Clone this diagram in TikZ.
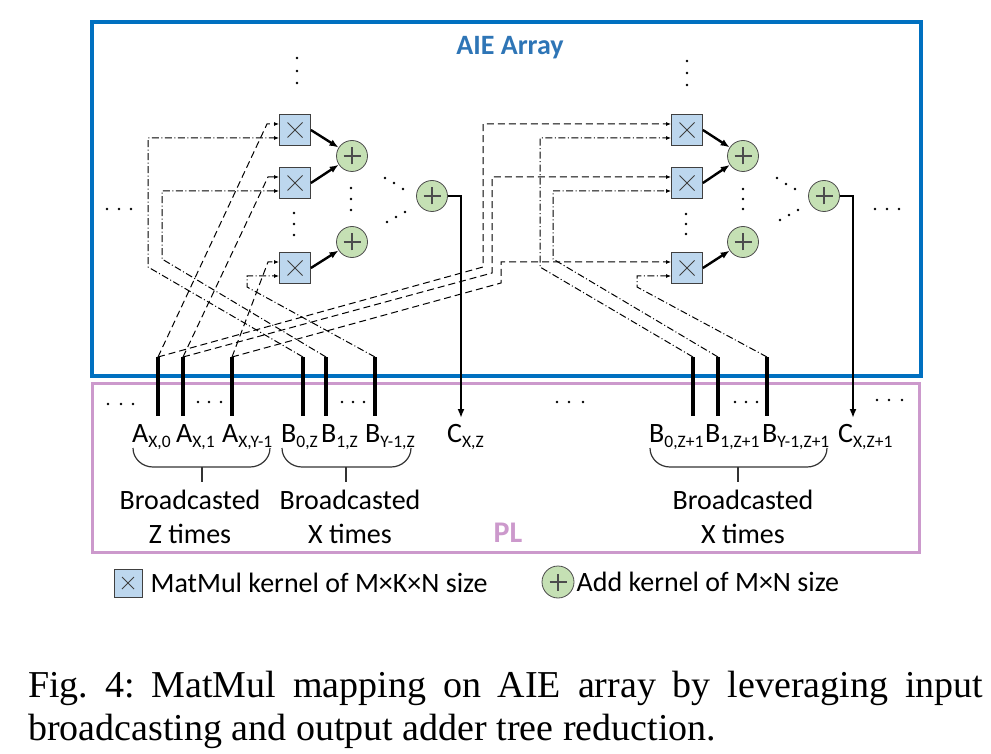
\documentclass[tikz,border=0pt]{standalone}
\usepackage{fontspec}
\setmainfont{Carlito}
\newfontfamily\capfont{Liberation Serif}
\usetikzlibrary{arrows.meta,positioning}
\definecolor{aie_blue}{RGB}{0,112,192}
\definecolor{aie_text}{RGB}{46,117,182}
\definecolor{pl_pink}{RGB}{204,153,204}
\definecolor{mul_fill}{RGB}{189,215,238}
\definecolor{add_fill}{RGB}{197,224,180}
\newcommand\sublbl[2]{#1\raisebox{-5pt}{\fontsize{17.5}{17.5}\selectfont #2}}

\tikzset{
  mulbox/.style={draw=black!75, fill=mul_fill, minimum size=31pt, inner sep=0pt, line width=0.8pt,
    path picture={
      \draw[line width=0.8pt] ([shift={(8pt,-8pt)}]path picture bounding box.north west) -- ([shift={(-8pt,8pt)}]path picture bounding box.south east);
      \draw[line width=0.8pt] ([shift={(8pt,8pt)}]path picture bounding box.south west) -- ([shift={(-8pt,-8pt)}]path picture bounding box.north east);}},
  addnode/.style={circle, draw=black!70, fill=add_fill, minimum size=31pt, inner sep=0pt, line width=0.8pt,
    path picture={
      \draw[line width=2.6pt] ([xshift=-8.5pt]path picture bounding box.center) -- ([xshift=8.5pt]path picture bounding box.center);
      \draw[line width=2.6pt] ([yshift=-8.5pt]path picture bounding box.center) -- ([yshift=8.5pt]path picture bounding box.center);}},
  ainput/.style={dash pattern=on 7pt off 4pt, line width=1pt, -{Latex[length=5pt,width=4pt]}},
  binput/.style={dash pattern=on 7pt off 2.5pt on 1pt off 2.5pt, line width=1pt, -{Latex[length=5pt,width=4pt]}},
  stub/.style={line width=3.2pt},
  sumarrow/.style={line width=2.4pt, -{Latex[length=9pt,width=7pt]}},
  outline/.style={line width=2.8pt, -{Latex[length=9pt,width=7pt]}},
  tinydot/.style={circle, fill, inner sep=0pt, minimum size=2.6pt},
  lbl/.style={anchor=base west, inner sep=0pt, font=\fontsize{28}{33}\selectfont},
  bcast/.style={align=center, inner sep=0pt, font=\fontsize{28}{34}\selectfont},
  brace/.style={line width=1.2pt, draw=black!80},
}

\begin{document}
\begin{tikzpicture}[x=1pt, y=-1pt]
  \useasboundingbox (0,0) rectangle (991,754);
  % frames
  \draw[aie_blue, line width=4pt] (92,22) rectangle (921,376);
  \draw[pl_pink, line width=3pt] (92,383) rectangle (919,552);
  \node[font=\bfseries\fontsize{28}{28}\selectfont, text=aie_text] (aie) at (510,48) {AIE Array};
  \node[font=\bfseries\fontsize{30}{30}\selectfont, text=pl_pink] (pl) at (508,533) {PL};

  % left column
  \node[mulbox] (m11) at (295,130) {};
  \node[mulbox] (m12) at (295,183) {};
  \node[mulbox] (m13) at (295,268) {};
  \node[addnode] (a11) at (352,156) {};
  \node[addnode] (a12) at (352,242) {};
  \node[addnode] (s1) at (432,196) {};
  % right column
  \node[mulbox] (m21) at (687,130) {};
  \node[mulbox] (m22) at (687,183) {};
  \node[mulbox] (m23) at (687,268) {};
  \node[addnode] (a21) at (743,156) {};
  \node[addnode] (a22) at (743,242) {};
  \node[addnode] (s2) at (824,196) {};

  \foreach \m in {1,2} {
    \draw[sumarrow] (m\m1.east) -- (a\m1);
    \draw[sumarrow] (m\m2.east) -- (a\m1);
    \draw[sumarrow] (m\m3.east) -- (a\m2);
    \foreach \k in {1,2,3} {
      \coordinate (m\m\k u) at ([yshift=6pt]m\m\k.west);
      \coordinate (m\m\k d) at ([yshift=-8pt]m\m\k.west);
    }
  }

  % PL ports
  \foreach \n/\x in {ax0/158, ax1/183, axy/232, b0z/303, b1z/326, byz/375, b0w/693, b1w/718, byw/767} {
    \coordinate (\n t) at (\x,357);
    \coordinate (\n b) at (\x,416);
    \draw[stub] (\n t) -- (\n b);
  }
  \coordinate (cxz) at (461,418);
  \coordinate (cxw) at (853,418);
  \draw[outline] (s1) -| (cxz);
  \draw[outline] (s2) -| (cxw);

  % A inputs, left column
  \draw[ainput] (ax0t) -- (267,124) -- (m11u);
  \draw[ainput] (ax1t) -- (268,177) -- (m12u);
  \draw[ainput] (axyt) -- (268,262) -- (m13u);
  % A inputs, right column
  \draw[ainput] (ax0t) -- (483,267) |- (m21u);
  \draw[ainput] (ax1t) -- (492,273) |- (m22u);
  \draw[ainput] (axyt) -- (501,283) |- (m23u);
  % B inputs
  \draw[binput] (b0zt) -- (148,267) |- (m11d);
  \draw[binput] (b1zt) -- (162,259) |- (m12d);
  \draw[binput] (byzt) -- (247,287) |- (m13d);
  \draw[binput] (b0wt) -- (540,267) |- (m21d);
  \draw[binput] (b1wt) -- (553,259) |- (m22d);
  \draw[binput] (bywt) -- (637,287) |- (m23d);

  % dots
  \foreach \x/\y in {297/58, 297/71, 297/83, 687/61, 687/73, 687/85,
      294/213, 294/224, 294/235, 351/188, 351/199, 351/210,
      686/214, 686/224, 686/234, 743/189, 743/199, 743/209,
      385/178, 394/183, 403/189, 387/222, 396/217, 405/212,
      777/178, 786/184, 795/189, 780/220, 789/215, 798/210,
      107/209, 119/209, 131/209, 875/209, 887/209, 899/209,
      108/404, 121/404, 133/404, 198/402, 209/402, 221/402,
      342/402, 353/402, 364/402, 557/402, 569/402, 583/402,
      735/402, 746/402, 757/402, 877/400, 889/400, 902/400}
    \node[tinydot] at (\x,\y) {};

  % labels
  \node[lbl] (lax0) at (132,442) {\sublbl{A}{X,0}};
  \node[lbl] (lax1) at (176,442) {\sublbl{A}{X,1}};
  \node[lbl] (laxy) at (222,442) {\sublbl{A}{X,Y-1}};
  \node[lbl] (lb0z) at (281,442) {\sublbl{B}{0,Z}};
  \node[lbl] (lb1z) at (321,442) {\sublbl{B}{1,Z}};
  \node[lbl] (lbyz) at (365,442) {\sublbl{B}{Y-1,Z}};
  \node[lbl] (lcxz) at (447,442) {\sublbl{C}{X,Z}};
  \node[lbl] (lb0w) at (649,442) {\sublbl{B}{0,Z+1}};
  \node[lbl] (lb1w) at (705,442) {\sublbl{B}{1,Z+1}};
  \node[lbl] (lbyw) at (762,442) {\sublbl{B}{Y-1,Z+1}};
  \node[lbl] (lcxw) at (838,442) {\sublbl{C}{X,Z+1}};

  % braces
  \foreach \l/\r/\c in {133/270/202, 282/411/346, 650/827/738} {
    \draw[brace] (\l,448) to[out=-90,in=180] (\l+20,467) -- (\r-20,467) to[out=0,in=-90] (\r,448);
    \draw[brace] (\c,467) -- (\c,482);
  }
  \node[bcast] (bz) at (190,517) {Broadcasted\\Z times};
  \node[bcast] (bx) at (350,517) {Broadcasted\\X times};
  \node[bcast] (bw) at (743,517) {Broadcasted\\X times};

  % legend
  \node[mulbox, minimum size=28pt] (lgm) at (128,583) {};
  \node[lbl, anchor=west, right=8pt of lgm] (lgmt) {MatMul kernel of M×K×N size};
  \node[addnode, minimum size=32pt] (lga) at (558,582) {};
  \node[lbl, anchor=west, right=2pt of lga] (lgat) {Add kernel of M×N size};

  % caption
  \node[anchor=base west, inner sep=0pt, font=\capfont\fontsize{38}{43}\selectfont] (cap1) at (28,697)
    {\frenchspacing\makebox[955pt][s]{Fig. 4: MatMul mapping on AIE array by leveraging input}};
  \node[anchor=base west, inner sep=0pt, font=\capfont\fontsize{38}{43}\selectfont] (cap2) at (28,740)
    {broadcasting and output adder tree reduction.};
\end{tikzpicture}
\end{document}
